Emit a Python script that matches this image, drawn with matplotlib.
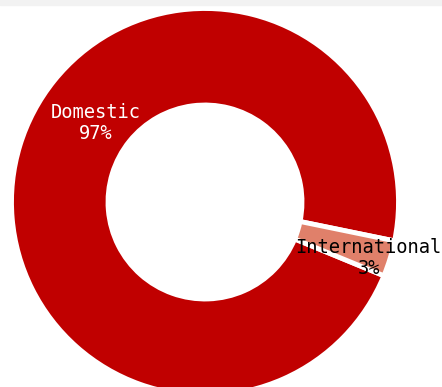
import numpy as np
import matplotlib
matplotlib.use('Agg')
import matplotlib.pyplot as plt
from matplotlib.patches import Rectangle

# shipment split
labels = ['Domestic', 'International']
shares = [97, 3]
colors = ['#C00000', '#E0806A']
text_colors = ['white', 'black']

# label placement (angle in degrees, distance in pixels from the centre)
label_angles = [144.3, -18.9]
label_dists = [135, 173]

W, H = 442, 387
CX, CY = 205, H - 202
R = 193.5
RING = 96.5

fig = plt.figure(figsize=(W / 100, H / 100), dpi=100)
ax = fig.add_axes([0, 0, 1, 1])

# thin grey band along the top
fig.patches.append(Rectangle((0, 1 - 5 / H), 1, 5 / H, transform=fig.transFigure,
                             color='#F2F2F2', zorder=0))

start = -11.6
ax.pie(shares, colors=colors, startangle=start, center=(CX, CY), radius=R,
       wedgeprops=dict(width=RING, edgecolor='white', linewidth=3.5),
       frame=True)
ax.set_xlim(0, W)
ax.set_ylim(0, H)
ax.set_aspect('equal')
ax.axis('off')

for name, val, ang, dist, tc in zip(labels, shares, label_angles, label_dists, text_colors):
	x = CX + dist * np.cos(np.radians(ang))
	y = CY + dist * np.sin(np.radians(ang))
	ax.text(x, y, '{}\n{}%'.format(name, val), ha='center', va='center',
	        color=tc, fontsize=13.5, family='DejaVu Sans Mono', linespacing=1.1)

fig.savefig('out.png', dpi=100)
